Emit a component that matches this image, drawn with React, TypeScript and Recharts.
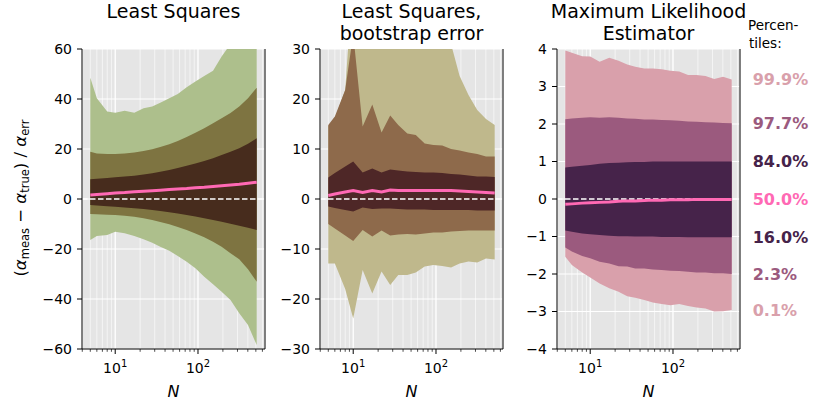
import { ComposedChart, Area, Line, XAxis, YAxis, CartesianGrid, ReferenceLine, ReferenceDot } from "recharts";

const FONT = "'DejaVu Sans', sans-serif";

// sample sizes
const N = [5, 6, 8, 10, 13, 17, 22, 28, 35, 45, 57, 73, 93, 119, 152, 193, 247, 315, 402, 512];

// Least squares percentiles
const ls999 = [48.5, 40.3, 35, 34.5, 35.3, 34.5, 36.3, 37, 38.5, 40.3, 42, 44.7, 47, 49.2, 51.3, 57, 62, 66, 70, 74];
const ls977 = [18.9, 18.2, 18.0, 18.0, 18.2, 18.6, 19.2, 19.9, 20.8, 21.9, 23.2, 24.8, 26.5, 28.3, 30.3, 32.3, 34.4, 37.0, 40.3, 44.5];
const ls84 = [7.9, 8.1, 8.4, 8.7, 9.0, 9.3, 9.8, 10.3, 10.9, 11.6, 12.4, 13.3, 14.2, 15.2, 16.3, 17.6, 18.9, 20.3, 22.1, 24.3];
const ls50 = [1.6, 1.8, 2.1, 2.4, 2.6, 2.9, 3.1, 3.3, 3.5, 3.8, 4.0, 4.2, 4.5, 4.7, 5.0, 5.3, 5.6, 5.9, 6.3, 6.7];
const ls16 = [-2.4, -2.6, -2.9, -3.1, -3.4, -3.7, -4.0, -4.4, -4.8, -5.3, -5.8, -6.4, -7.0, -7.7, -8.4, -9.1, -9.9, -10.7, -11.5, -12.4];
const ls023 = [-6.0, -6.1, -6.3, -6.4, -6.7, -7.1, -7.7, -8.4, -9.2, -10.1, -11.2, -12.4, -13.8, -15.3, -17.1, -19.1, -21.7, -24.1, -28.1, -33.1];
const ls001 = [-16.4, -14.8, -14.4, -13.1, -13.7, -14.8, -16.1, -17.5, -19.1, -20.7, -22.8, -25.1, -27.7, -31.1, -34.1, -37.1, -40.4, -45.7, -50.4, -58.4];

// Least squares with bootstrap error
const bs999 = [14.6, 16.1, 21.8, 45, 38, 40, 38, 40, 38, 36, 35, 34, 33, 32, 31, 24.6, 20.8, 17.8, 16.0, 14.8];
const bs977 = [14.8, 16.5, 21.8, 33, 14.5, 18.9, 13.3, 16.7, 14.8, 13.1, 12.8, 11.1, 10.8, 10.7, 10.0, 9.7, 9.3, 9.0, 8.5, 8.5];
const bs84 = [4.3, 5.2, 6.5, 7.5, 5.3, 6.1, 5.3, 5.9, 5.7, 5.5, 5.4, 5.3, 5.3, 5.2, 5.0, 4.9, 4.7, 4.5, 4.5, 4.4];
const bs50 = [0.7, 1.0, 1.4, 1.7, 1.3, 1.7, 1.4, 1.8, 1.7, 1.7, 1.7, 1.7, 1.7, 1.7, 1.7, 1.6, 1.5, 1.4, 1.3, 1.2];
const bs16 = [-1.5, -1.8, -2.2, -2.5, -1.7, -2.0, -1.9, -1.9, -2.0, -2.1, -2.1, -2.1, -2.2, -2.2, -2.2, -2.2, -2.2, -2.3, -2.3, -2.3];
const bs023 = [-5.0, -5.9, -7.3, -8.4, -6.2, -7.5, -6.3, -7.3, -7.1, -7.0, -7.1, -6.9, -6.7, -6.7, -6.5, -6.4, -6.3, -6.3, -6.3, -6.3];
const bs001 = [-12.9, -12.9, -18.0, -23.9, -14.2, -18.9, -14.5, -17.2, -15.2, -15.2, -14.7, -13.5, -13.2, -13.4, -13.7, -12.9, -12.5, -12.7, -11.9, -12.1];

// Maximum likelihood estimator
const ml999 = [3.96, 3.9, 3.81, 3.8, 3.66, 3.77, 3.69, 3.59, 3.53, 3.48, 3.48, 3.46, 3.42, 3.4, 3.31, 3.31, 3.28, 3.2, 3.26, 3.19];
const ml977 = [2.13, 2.15, 2.17, 2.18, 2.17, 2.18, 2.17, 2.15, 2.14, 2.12, 2.12, 2.11, 2.1, 2.09, 2.07, 2.06, 2.05, 2.04, 2.03, 2.02];
const ml84 = [0.84, 0.86, 0.89, 0.91, 0.94, 0.96, 0.97, 0.98, 0.99, 0.99, 1.0, 1.0, 1.0, 1.0, 1.0, 1.0, 1.0, 1.0, 1.0, 1.0];
const ml50 = [-0.14, -0.13, -0.11, -0.1, -0.09, -0.08, -0.06, -0.05, -0.05, -0.04, -0.03, -0.03, -0.02, -0.02, -0.02, -0.01, -0.01, -0.01, -0.01, -0.01];
const ml16 = [-0.84, -0.87, -0.92, -0.94, -0.96, -0.98, -0.99, -0.99, -1.0, -1.0, -1.0, -1.01, -1.01, -1.01, -1.02, -1.02, -1.02, -1.02, -1.02, -1.02];
const ml023 = [-1.29, -1.4, -1.52, -1.58, -1.67, -1.72, -1.79, -1.8, -1.85, -1.85, -1.88, -1.89, -1.91, -1.92, -1.94, -1.96, -1.96, -1.98, -1.98, -2.0];
const ml001 = [-1.54, -1.76, -1.96, -2.09, -2.25, -2.38, -2.47, -2.59, -2.63, -2.69, -2.76, -2.8, -2.83, -2.8, -2.85, -2.89, -2.92, -3.0, -2.99, -2.96];

const majorTicks = [10, 100];
const minorTicks = [4, 5, 6, 7, 8, 9, 20, 30, 40, 50, 60, 70, 80, 90, 200, 300, 400, 500, 600];
const xDomain = [3.97, 645];

const pctLabels = ["99.9%", "97.7%", "84.0%", "50.0%", "16.0%", "2.3%", "0.1%"];
const pink = "#ff69b4";

function buildRows(p001: number[], p023: number[], p16: number[], p50: number[], p84: number[], p977: number[], p999: number[]) {
  return N.map((n, i) => ({
    n,
    outer: [p001[i], p999[i]],
    mid: [p023[i], p977[i]],
    inner: [p16[i], p84[i]],
    med: p50[i],
  }));
}

const fmt = (v: number) => (v < 0 ? `\u2212${-v}` : `${v}`);

function XTick({ x, y, payload }: any) {
  const major = majorTicks.includes(payload.value);
  return (
    <g>
      <line x1={x} x2={x} y1={y} y2={y + (major ? 5 : 2.8)} stroke="#000" strokeWidth={major ? 1 : 0.7} />
      {major && (
        <text x={x} y={y + 24} textAnchor="middle" fontSize={14} fill="#000" fontFamily={FONT}>
          10<tspan dy={-6} fontSize={10}>{Math.round(Math.log10(payload.value))}</tspan>
        </text>
      )}
    </g>
  );
}

interface PanelProps {
  left: number;
  width: number;
  leftW: number;
  rightW: number;
  yMax: number;
  yTicks: number[];
  rightTicks: number[];
  rows: any[];
  colors: string[];
  labels?: { y: number; text: string; color: string }[];
}

function Panel({ left, width, leftW, rightW, yMax, yTicks, rightTicks, rows, colors, labels }: PanelProps) {
  return (
    <div style={{ position: "absolute", left, top: 0 }}>
      <ComposedChart width={width} height={411} data={rows} margin={{ top: 49, right: 0, bottom: 0, left: 0 }}>
        <CartesianGrid horizontal={false} stroke="#fff" strokeWidth={0.6} fill="#e5e5e5" />
        <CartesianGrid xAxisId="maj" stroke="#fff" strokeWidth={1.1} />
        <XAxis
          dataKey="n"
          type="number"
          scale="log"
          domain={xDomain}
          allowDataOverflow
          ticks={[...majorTicks, ...minorTicks]}
          interval={0}
          height={62}
          tickSize={0}
          tickMargin={0}
          tickLine={false}
          axisLine={{ stroke: "#000", strokeWidth: 1 }}
          tick={<XTick />}
          label={{
            content: ({ viewBox }: any) => (
              <text x={viewBox.x + viewBox.width / 2} y={viewBox.y + 47.5} textAnchor="middle" fontStyle="italic" fontSize={16} fontFamily={FONT} fill="#000">
                N
              </text>
            ),
          }}
        />
        <XAxis xAxisId="maj" dataKey="n" type="number" scale="log" domain={xDomain} allowDataOverflow ticks={majorTicks} hide />
        <YAxis
          type="number"
          domain={[-yMax, yMax]}
          allowDataOverflow
          ticks={yTicks}
          interval={0}
          width={leftW}
          tickSize={5}
          tickMargin={5}
          tickFormatter={fmt}
          axisLine={{ stroke: "#000", strokeWidth: 1 }}
          tickLine={{ stroke: "#000" }}
          tick={{ fill: "#000", fontSize: 14, fontFamily: FONT }}
        />
        <YAxis
          yAxisId="r"
          orientation="right"
          type="number"
          domain={[-yMax, yMax]}
          allowDataOverflow
          ticks={rightTicks}
          interval={0}
          width={rightW}
          tickSize={5}
          tick={false}
          axisLine={{ stroke: "#000", strokeWidth: 1 }}
          tickLine={{ stroke: "#000" }}
        />
        <Area dataKey="outer" type="linear" stroke="none" fill={colors[0]} fillOpacity={1} isAnimationActive={false} activeDot={false} />
        <Area dataKey="mid" type="linear" stroke="none" fill={colors[1]} fillOpacity={1} isAnimationActive={false} activeDot={false} />
        <Area dataKey="inner" type="linear" stroke="none" fill={colors[2]} fillOpacity={1} isAnimationActive={false} activeDot={false} />
        <ReferenceLine y={0} stroke="#fff" strokeWidth={1.5} strokeDasharray="5.5 2.5" />
        <Line dataKey="med" type="linear" stroke={pink} strokeWidth={3} dot={false} activeDot={false} isAnimationActive={false} />
        {labels &&
          labels.map((l) => (
            <ReferenceDot
              key={l.text}
              x={N[N.length - 1]}
              y={l.y}
              r={0}
              fill="none"
              stroke="none"
              label={{ value: l.text, position: "right", offset: 21, fill: l.color, fontSize: 16, fontWeight: "bold", fontFamily: FONT }}
            />
          ))}
      </ComposedChart>
    </div>
  );
}

export default function App() {
  const mlColors = ["#d9a0ab", "#9b5a7e", "#46234a"];
  const last = N.length - 1;
  const mlLabels = [
    { y: ml999[last], text: pctLabels[0], color: mlColors[0] },
    { y: ml977[last], text: pctLabels[1], color: mlColors[1] },
    { y: ml84[last], text: pctLabels[2], color: mlColors[2] },
    { y: ml50[last], text: pctLabels[3], color: pink },
    { y: ml16[last], text: pctLabels[4], color: mlColors[2] },
    { y: ml023[last], text: pctLabels[5], color: mlColors[1] },
    { y: ml001[last], text: pctLabels[6], color: mlColors[0] },
  ];

  return (
    <div style={{ position: "fixed", left: 0, top: 0, width: 822, height: 411, background: "#fff", fontFamily: FONT }}>
      <Panel
        left={0}
        width={280}
        leftW={82}
        rightW={15}
        yMax={60}
        yTicks={[-60, -40, -20, 0, 20, 40, 60]}
        rightTicks={[-60, -40, -20, 0, 20, 40, 60]}
        rows={buildRows(ls001, ls023, ls16, ls50, ls84, ls977, ls999)}
        colors={["#adbf8c", "#7e7441", "#472c1d"]}
      />
      <Panel
        left={268}
        width={252}
        leftW={52}
        rightW={17}
        yMax={30}
        yTicks={[-30, -20, -10, 0, 10, 20, 30]}
        rightTicks={[-30, -20, -10, 0, 10, 20, 30]}
        rows={buildRows(bs001, bs023, bs16, bs50, bs84, bs977, bs999)}
        colors={["#bfb88c", "#8e6a4b", "#4e2727"]}
      />
      <Panel
        left={515}
        width={307}
        leftW={42}
        rightW={82}
        yMax={4}
        yTicks={[-4, -3, -2, -1, 0, 1, 2, 3, 4]}
        rightTicks={[-3, -2, -1, 0, 1, 2, 3]}
        rows={buildRows(ml001, ml023, ml16, ml50, ml84, ml977, ml999)}
        colors={mlColors}
        labels={mlLabels}
      />
      <svg width={822} height={411} style={{ position: "absolute", left: 0, top: 0, pointerEvents: "none" }} fontFamily={FONT}>
        <g fontSize={19} fill="#000" textAnchor="middle">
          <text x={173.5} y={18}>Least Squares</text>
          <text x={411.5} y={18}>Least Squares,</text>
          <text x={411.5} y={39.5}>bootstrap error</text>
          <text x={648.5} y={18}>Maximum Likelihood</text>
          <text x={648.5} y={39.5}>Estimator</text>
        </g>
        <text x={748} y={30} fontSize={13.5} fill="#000">Percen-</text>
        <text x={749} y={47.5} fontSize={13.5} fill="#000">tiles:</text>
        <text x={26} y={198} fontSize={16.5} fill="#000" textAnchor="middle" transform="rotate(-90 26 198)">
          (<tspan fontStyle="italic">α</tspan>
          <tspan fontSize={11.5} dy={3}>meas</tspan>
          <tspan dy={-3}> − </tspan>
          <tspan fontStyle="italic">α</tspan>
          <tspan fontSize={11.5} dy={3}>true</tspan>
          <tspan dy={-3}>) / </tspan>
          <tspan fontStyle="italic">α</tspan>
          <tspan fontSize={11.5} dy={3}>err</tspan>
        </text>
      </svg>
    </div>
  );
}
